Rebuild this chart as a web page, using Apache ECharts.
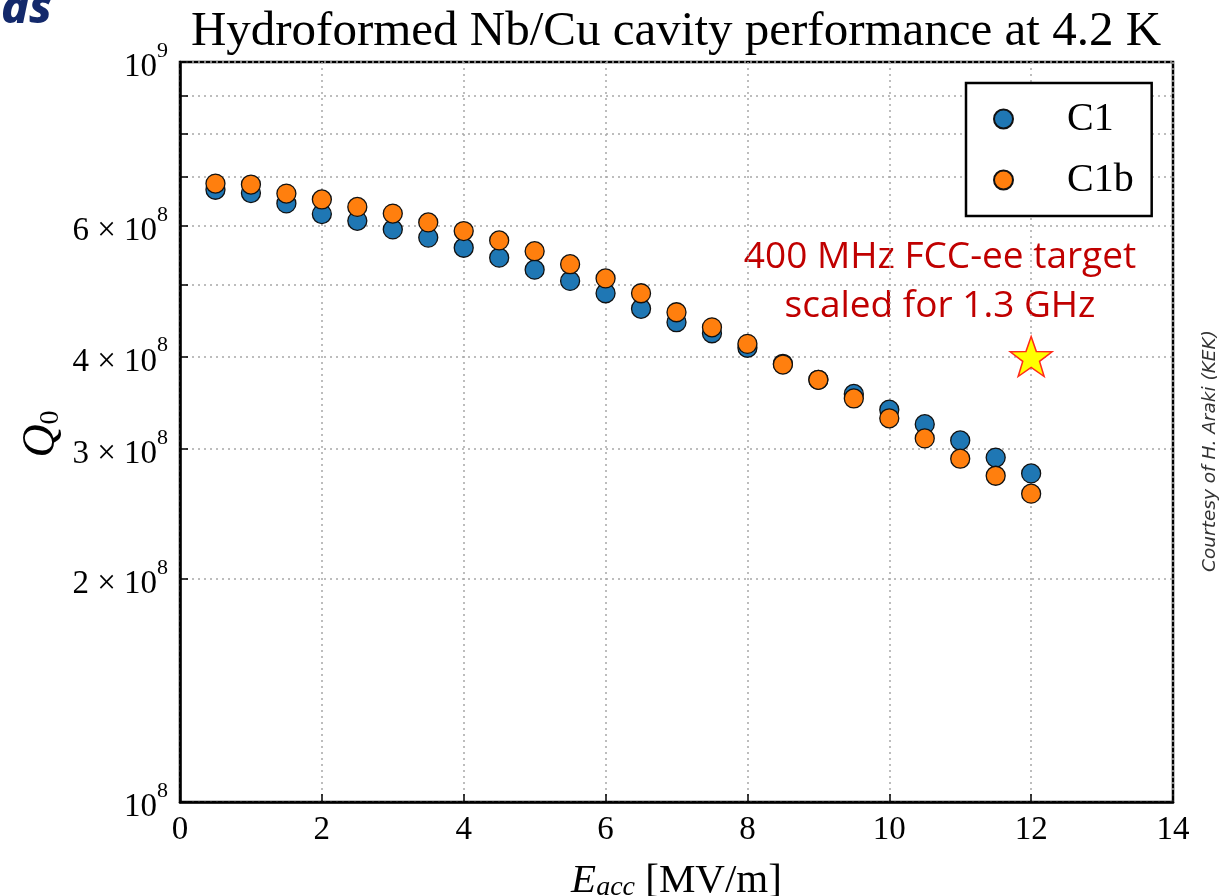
<!DOCTYPE html>
<html><head><meta charset="utf-8">
<script src="https://cdn.jsdelivr.net/npm/echarts@6/dist/echarts.min.js"></script>
<style>html,body{margin:0;padding:0;background:#fff}#c{width:1220px;height:896px}</style>
</head><body><div id="c"></div>
<script>
const eacc = [0.5,1,1.5,2,2.5,3,3.5,4,4.5,5,5.5,6,6.5,7,7.5,8,8.5,9,9.5,10,10.5,11,11.5,12];
const q0C1 = [6.72e8,6.65e8,6.44e8,6.23e8,6.10e8,5.94e8,5.79e8,5.61e8,5.44e8,5.24e8,5.06e8,4.87e8,4.64e8,4.45e8,4.30e8,4.11e8,3.91e8,3.72e8,3.56e8,3.39e8,3.24e8,3.08e8,2.92e8,2.78e8];
const q0C1b = [6.85e8,6.83e8,6.64e8,6.52e8,6.37e8,6.24e8,6.07e8,5.91e8,5.74e8,5.55e8,5.33e8,5.10e8,4.87e8,4.59e8,4.38e8,4.16e8,3.90e8,3.72e8,3.51e8,3.30e8,3.10e8,2.91e8,2.76e8,2.61e8];
const targetPoint = [12, 4e8];
const seriesNames = ['C1','C1b'];
const xTicks = [0,2,4,6,8,10,12,14];
const yLabelValues = [1e8,2e8,3e8,4e8,6e8,1e9];
const yTickValues = [1e8,2e8,3e8,4e8,5e8,6e8,7e8,8e8,9e8,1e9];
const titleText = 'Hydroformed Nb/Cu cavity performance at 4.2 K';
const annotationLines = ['400 MHz FCC-ee target','scaled for 1.3 GHz'];
const courtesyText = 'Courtesy of H. Araki (KEK)';

const SERIF = '"Liberation Serif","DejaVu Serif",serif';
const chart = echarts.init(document.getElementById('c'), null, {renderer:'canvas'});

function yFmt(v){
  const e = Math.floor(Math.log10(v) + 1e-9);
  const m = Math.round(v / Math.pow(10, e));
  return (m === 1 ? '{b|10}' : '{b|' + m + ' × 10}') + '{s|' + e + '}';
}
const star = 'path://M0,-10 L2.35,-3.24 L9.51,-3.09 L3.8,1.24 L5.88,8.09 L0,4 L-5.88,8.09 L-3.8,1.24 L-9.51,-3.09 L-2.35,-3.24 Z';

chart.setOption({
  animation:false,
  backgroundColor:'#fff',
  grid:{left:180, right:47, top:62, bottom:94, outerBoundsMode:'none', containLabel:false,
        show:true, borderColor:'#000', borderWidth:2.5, backgroundColor:'transparent'},
  xAxis:{
    type:'value', min:xTicks[0], max:xTicks[xTicks.length-1], interval:2,
    axisLine:{show:true, onZero:false, lineStyle:{color:'#000', width:2.5}},
    axisTick:{show:true, inside:true, length:8, lineStyle:{color:'#000', width:1.5}},
    axisLabel:{color:'#000', fontSize:33, fontFamily:SERIF, margin:12},
    splitLine:{show:true, lineStyle:{color:'#a8a8a8', width:1.5, type:[2,4]}},
    name:'{i|E}{sub|acc}{r| [MV/m]}', nameLocation:'middle', nameGap:58,
    nameTextStyle:{rich:{
      i:{fontSize:41, fontStyle:'italic', fontFamily:SERIF, color:'#000', verticalAlign:'bottom', lineHeight:42},
      sub:{fontSize:28, fontStyle:'italic', fontFamily:SERIF, color:'#000', verticalAlign:'bottom', lineHeight:36},
      r:{fontSize:41, fontFamily:SERIF, color:'#000', verticalAlign:'bottom', lineHeight:42}
    }}
  },
  yAxis:{
    type:'log', logBase:10, min:1e8, max:1e9,
    axisLine:{show:true, lineStyle:{color:'#000', width:2.5}},
    axisTick:{show:true, inside:true, length:8, customValues:yTickValues, lineStyle:{color:'#000', width:1.5}},
    axisLabel:{customValues:yLabelValues, formatter:yFmt, margin:12,
      rich:{
        b:{fontSize:33, fontFamily:SERIF, color:'#000', lineHeight:44, verticalAlign:'bottom'},
        s:{fontSize:22, fontFamily:SERIF, color:'#000', lineHeight:44, verticalAlign:'top'}
      }},
    splitLine:{show:true, lineStyle:{color:'#a8a8a8', width:1.5, type:[2,4]}},
    minorTick:{show:false}
  },
  legend:{
    data:seriesNames, orient:'vertical', left:966, top:83,
    padding:[15,18,15,27], itemGap:19, itemWidth:19, itemHeight:19, icon:'circle',
    borderColor:'#000', borderWidth:2.5, backgroundColor:'#fff',
    textStyle:{fontSize:40, fontFamily:SERIF, color:'#000', padding:[0,0,0,49], lineHeight:42}
  },
  series:[
    {name:seriesNames[0], type:'scatter', data:eacc.map((x,i)=>[x,q0C1[i]]), symbol:'circle', symbolSize:19,
     itemStyle:{color:'#1f77b4', borderColor:'#111', borderWidth:1.3, opacity:1}, z:3},
    {name:seriesNames[1], type:'scatter', data:eacc.map((x,i)=>[x,q0C1b[i]]), symbol:'circle', symbolSize:19,
     itemStyle:{color:'#ff7f0e', borderColor:'#111', borderWidth:1.3, opacity:1}, z:4},
    {name:'target', type:'scatter', data:[targetPoint], symbol:star, symbolSize:[42,40],
     itemStyle:{color:'#ffff00', borderColor:'#ff2a1a', borderWidth:1.5, opacity:1}, z:5}
  ],
  graphic:[
    {type:'text', x:676, y:32, style:{text:titleText, font:'49px '+SERIF, fill:'#000', textAlign:'center', textVerticalAlign:'middle'}},
    {type:'text', x:52, y:10, style:{text:'as', font:'italic 800 47px "Noto Sans",sans-serif', fill:'#13296b', textAlign:'right', textVerticalAlign:'middle'}},
    {type:'text', x:940, y:282, style:{text:annotationLines.join('\n'), font:'37px "Open Sans",sans-serif', fill:'#c00000', textAlign:'center', textVerticalAlign:'middle', lineHeight:49}},
    {type:'text', x:1210, y:451, rotation:Math.PI/2, style:{text:courtesyText, font:'italic 18.5px "DejaVu Sans",sans-serif', fill:'#333', textAlign:'center', textVerticalAlign:'middle'}},
    {type:'text', x:40, y:434, rotation:Math.PI/2, style:{text:'{q|Q}{z|0}', textAlign:'center', textVerticalAlign:'middle',
      rich:{q:{fontSize:46, fontStyle:'italic', fontFamily:SERIF, color:'#000', lineHeight:50, verticalAlign:'bottom'},
            z:{fontSize:28, fontFamily:SERIF, color:'#000', lineHeight:40, verticalAlign:'bottom'}}}}
  ]
});
</script></body></html>
